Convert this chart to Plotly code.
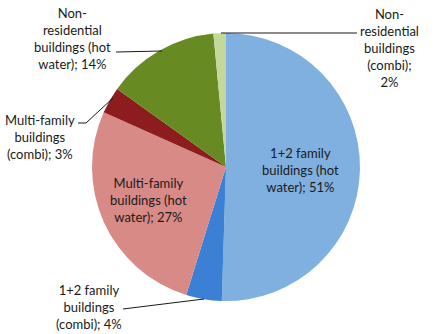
import plotly.graph_objects as go

W, H = 445, 334

labels = [
    "1+2 family buildings (hot water)",
    "1+2 family buildings (combi)",
    "Multi-family buildings (hot water)",
    "Multi-family buildings (combi)",
    "Non-residential buildings (hot water)",
    "Non-residential buildings (combi)",
]
values = [50.5, 4.3, 26.9, 3.2, 13.6, 1.5]
pct_text = ["51%", "4%", "27%", "3%", "14%", "2%"]
colors = ["#80B0E0", "#3C80D5", "#D88A86", "#8C1C1D", "#678A22", "#C4D89B"]

# label text broken into lines (display layout)
label_lines = [
    "1+2 family<br>buildings (hot<br>water); {p}",
    "1+2 family<br>buildings<br>(combi); {p}",
    "Multi-family<br>buildings (hot<br>water); {p}",
    "Multi-family<br>buildings<br>(combi); {p}",
    "Non-<br>residential<br>buildings (hot<br>water); {p}",
    "Non-<br>residential<br>buildings<br>(combi);<br>{p}",
]
# label centre positions in pixels (layout)
label_pos = [(300, 170), (89, 307), (148, 200), (40, 137), (72, 39), (389, 48)]
# leader line paths in pixels (layout)
leaders = [
    None,
    [(123, 309), (204, 299)],
    None,
    [(78, 123), (86, 123), (113, 98)],
    [(116, 52), (162, 51)],
    [(221, 33), (357, 33)],
]

cx, cy, r = 226, 167, 134

fig = go.Figure(go.Pie(
    labels=labels,
    values=values,
    sort=False,
    direction="clockwise",
    rotation=0,
    marker=dict(colors=colors, line=dict(width=0)),
    textinfo="none",
    hoverinfo="label+percent",
    showlegend=False,
    domain=dict(x=[(cx - r) / W, (cx + r) / W], y=[(H - cy - r) / H, (H - cy + r) / H]),
))

font = dict(family="Lato, Carlito, Calibri, sans-serif", size=13, color="#1a1a1a")

for i, (txt, (px, py)) in enumerate(zip(label_lines, label_pos)):
    fig.add_annotation(
        x=px / W, y=1 - py / H, xref="paper", yref="paper",
        text=txt.format(p=pct_text[i]), showarrow=False,
        font=font, align="center", xanchor="center", yanchor="middle",
    )
    if leaders[i]:
        pts = leaders[i]
        path = "M " + " L ".join(f"{x / W},{1 - y / H}" for x, y in pts)
        fig.add_shape(type="path", path=path, xref="paper", yref="paper",
                      line=dict(color="#1a1a1a", width=1))

fig.update_layout(
    width=W, height=H,
    margin=dict(l=0, r=0, t=0, b=0),
    paper_bgcolor="white",
    plot_bgcolor="white",
)

fig.write_html("out.html")
